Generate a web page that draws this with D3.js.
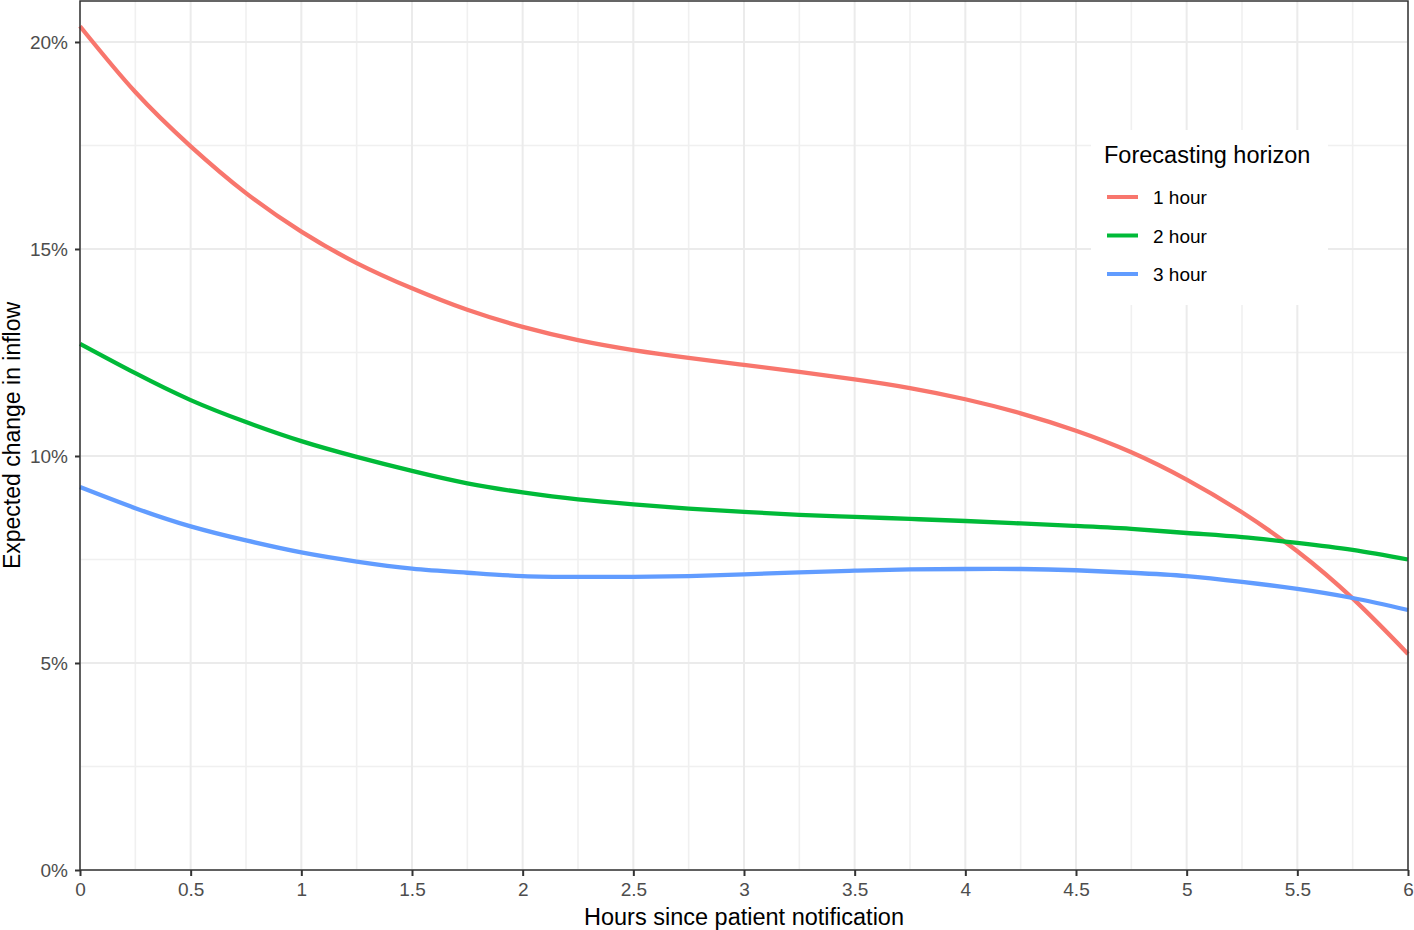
<!DOCTYPE html>
<html>
<head>
<meta charset="utf-8">
<script src="https://cdn.jsdelivr.net/npm/d3@7"></script>
<style>
  body { margin: 0; background: #fff; }
  svg { display: block; font-family: "Liberation Sans", Arial, sans-serif; }
</style>
</head>
<body>
<svg id="chart" width="1414" height="930"></svg>
<script>
// hours since notification, sampled every quarter hour
var hours = [0, 0.25, 0.5, 0.75, 1, 1.25, 1.5, 1.75, 2, 2.25, 2.5, 2.75, 3,
             3.25, 3.5, 3.75, 4, 4.25, 4.5, 4.75, 5, 5.25, 5.5, 5.75, 6];

// expected change in inflow (%)
var oneHour = [20.38, 18.79, 17.48, 16.35, 15.42, 14.66, 14.05, 13.53, 13.12,
               12.80, 12.56, 12.37, 12.20, 12.03, 11.85, 11.64, 11.37, 11.03,
               10.61, 10.09, 9.43, 8.64, 7.70, 6.56, 5.22];
var twoHour = [12.71, 12.00, 11.35, 10.82, 10.36, 9.98, 9.64, 9.34, 9.12,
               8.95, 8.83, 8.73, 8.65, 8.58, 8.53, 8.48, 8.43, 8.37, 8.31,
               8.24, 8.14, 8.04, 7.90, 7.73, 7.50];
var threeHour = [9.25, 8.74, 8.30, 7.96, 7.67, 7.45, 7.28, 7.18, 7.10, 7.08,
                 7.08, 7.10, 7.14, 7.19, 7.23, 7.26, 7.27, 7.27, 7.24, 7.18,
                 7.10, 6.96, 6.79, 6.57, 6.28];

var seriesNames = ["1 hour", "2 hour", "3 hour"];
var seriesColors = ["#F8766D", "#00BA38", "#619CFF"];

var xTicks = [0, 0.5, 1, 1.5, 2, 2.5, 3, 3.5, 4, 4.5, 5, 5.5, 6];
var yTicks = [0, 5, 10, 15, 20];

function drawChart() {
    var pLeft = 80, pRight = 1408, pTop = 1, pBottom = 870;

    var svg = d3.select("#chart");

    var x = d3.scaleLinear().domain([0, 6]).range([pLeft, pRight]);
    var y = d3.scaleLinear().domain([0, 21.014]).range([pBottom, 0]);

    // grid
    var grid = svg.append("g");
    var xMinor = d3.range(0.25, 6, 0.5);
    var yMinor = [2.5, 7.5, 12.5, 17.5];

    grid.selectAll(".xmin").data(xMinor).enter().append("line")
        .attr("x1", d => x(d)).attr("x2", d => x(d))
        .attr("y1", pTop).attr("y2", pBottom)
        .attr("stroke", "#f0f0f0").attr("stroke-width", 1.6);
    grid.selectAll(".ymin").data(yMinor).enter().append("line")
        .attr("x1", pLeft).attr("x2", pRight)
        .attr("y1", d => y(d)).attr("y2", d => y(d))
        .attr("stroke", "#f0f0f0").attr("stroke-width", 1.6);
    grid.selectAll(".xmaj").data(xTicks).enter().append("line")
        .attr("x1", d => x(d)).attr("x2", d => x(d))
        .attr("y1", pTop).attr("y2", pBottom)
        .attr("stroke", "#ebebeb").attr("stroke-width", 2);
    grid.selectAll(".ymaj").data(yTicks).enter().append("line")
        .attr("x1", pLeft).attr("x2", pRight)
        .attr("y1", d => y(d)).attr("y2", d => y(d))
        .attr("stroke", "#ebebeb").attr("stroke-width", 2);

    // lines
    var allSeries = [oneHour, twoHour, threeHour];
    var line = d3.line()
        .x((d, i) => x(hours[i]))
        .y(d => y(d))
        .curve(d3.curveNatural);

    svg.append("g").selectAll("path")
        .data(allSeries)
        .enter().append("path")
        .attr("d", line)
        .attr("fill", "none")
        .attr("stroke", (d, i) => seriesColors[i])
        .attr("stroke-width", 4.3);

    // panel border
    svg.append("rect")
        .attr("x", pLeft).attr("y", pTop)
        .attr("width", pRight - pLeft).attr("height", pBottom - pTop)
        .attr("fill", "none").attr("stroke", "#333").attr("stroke-width", 1.5);

    // axes
    var xAxis = svg.append("g")
        .attr("transform", "translate(0," + pBottom + ")")
        .call(d3.axisBottom(x).tickValues(xTicks).tickSize(6).tickPadding(7)
            .tickFormat(d => d));
    var yAxis = svg.append("g")
        .attr("transform", "translate(" + pLeft + ",0)")
        .call(d3.axisLeft(y).tickValues(yTicks).tickSize(5).tickPadding(7)
            .tickFormat(d => d + "%"));

    [xAxis, yAxis].forEach(function (a) {
        a.select(".domain").remove();
        a.selectAll(".tick line").attr("stroke", "#333").attr("stroke-width", 2);
        a.selectAll(".tick text")
            .attr("fill", "#4d4d4d")
            .style("font-size", "19px")
            .style("font-family", "Liberation Sans, Arial, sans-serif");
    });

    // axis titles
    svg.append("text")
        .attr("x", (pLeft + pRight) / 2).attr("y", 925)
        .attr("text-anchor", "middle")
        .style("font-size", "23.5px")
        .text("Hours since patient notification");

    svg.append("text")
        .attr("transform", "translate(20," + (pTop + pBottom) / 2 + ") rotate(-90)")
        .attr("text-anchor", "middle")
        .style("font-size", "23px")
        .text("Expected change in inflow");

    // legend
    var legend = svg.append("g");
    legend.append("rect")
        .attr("x", 1091).attr("y", 130)
        .attr("width", 237).attr("height", 175)
        .attr("fill", "#fff");
    legend.append("text")
        .attr("x", 1104).attr("y", 163)
        .style("font-size", "23.5px")
        .text("Forecasting horizon");

    var items = legend.selectAll(".item")
        .data(seriesNames)
        .enter().append("g")
        .attr("transform", (d, i) => "translate(0," + (197 + i * 38.5) + ")");
    items.append("line")
        .attr("x1", 1107).attr("x2", 1138)
        .attr("stroke", (d, i) => seriesColors[i])
        .attr("stroke-width", 4);
    items.append("text")
        .attr("x", 1153).attr("y", 7)
        .style("font-size", "19px")
        .text(d => d);
}

drawChart();
</script>
</body>
</html>
